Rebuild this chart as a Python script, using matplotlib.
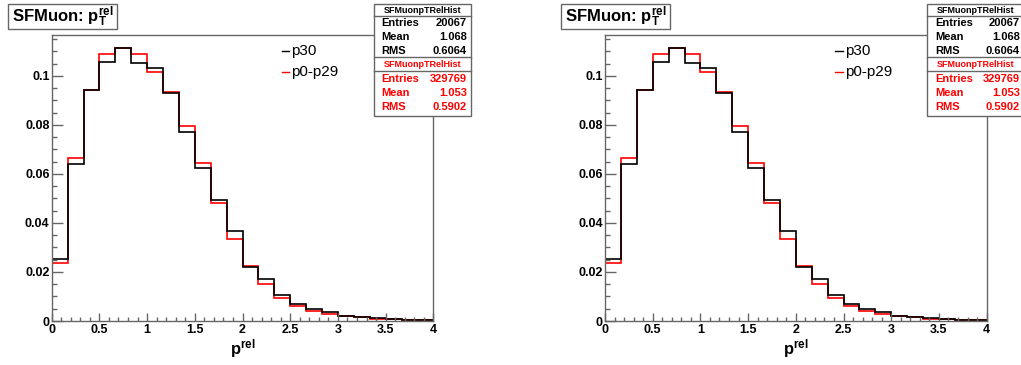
import numpy as np
import matplotlib
matplotlib.use("Agg")
import matplotlib.pyplot as plt
from matplotlib.patches import Rectangle
from matplotlib.lines import Line2D
from matplotlib.ticker import MultipleLocator, FuncFormatter

plt.rcParams['font.family'] = ['Liberation Sans', 'DejaVu Sans']
plt.rcParams['mathtext.fontset'] = 'custom'
plt.rcParams['mathtext.rm'] = 'Liberation Sans'
plt.rcParams['mathtext.bf'] = 'Liberation Sans:bold'
plt.rcParams['mathtext.it'] = 'Liberation Sans:italic'

# pT^rel histograms, 24 bins from 0 to 4, normalised to unit area
edges = np.linspace(0, 4, 25)
p30 = [0.0255, 0.0640, 0.0943, 0.1057, 0.1112, 0.1053, 0.1033, 0.0932,
       0.0772, 0.0625, 0.0493, 0.0366, 0.0219, 0.0171, 0.0106, 0.0069,
       0.0048, 0.0038, 0.0022, 0.0018, 0.0011, 0.0007, 0.0006, 0.0005]
p0_p29 = [0.0236, 0.0667, 0.0943, 0.1089, 0.1113, 0.1090, 0.1016, 0.0936,
          0.0797, 0.0644, 0.0480, 0.0335, 0.0224, 0.0149, 0.0094, 0.0063,
          0.0040, 0.0027, 0.0019, 0.0015, 0.0010, 0.0008, 0.0005, 0.0005]

legend_labels = ["p30", "p0-p29"]
hist_name = "SFMuonpTRelHist"
stat_names = ["Entries", "Mean", "RMS"]
p30_stats = ["20067", "1.068", "0.6064"]
p0_p29_stats = ["329769", "1.053", "0.5902"]

W, H = 1021, 365
fig = plt.figure(figsize=(W / 100, H / 100), dpi=100)
fig.patch.set_facecolor('white')

frame_col = '#666666'


def fx(x):
    return x / W


def fy(y):
    return 1 - y / H


def panel(off):
    ax = fig.add_axes([fx(51.7 + off), fy(321), (433.3 - 51.7) / W, (321 - 35) / H])
    ax.stairs(p0_p29, edges, color='#ff0000', lw=1.2)
    ax.stairs(p30, edges, color='black', lw=1.2)
    ax.set_xlim(0, 4)
    ax.set_ylim(0, 0.1167)
    for s in ax.spines.values():
        s.set_color(frame_col)
        s.set_linewidth(1.0)
    ax.xaxis.set_major_locator(MultipleLocator(0.5))
    ax.xaxis.set_minor_locator(MultipleLocator(0.1))
    ax.yaxis.set_major_locator(MultipleLocator(0.02))
    ax.yaxis.set_minor_locator(MultipleLocator(0.005))
    ax.xaxis.set_major_formatter(FuncFormatter(lambda v, p: '%g' % v))
    ax.yaxis.set_major_formatter(FuncFormatter(lambda v, p: '%g' % round(v, 3)))
    ax.tick_params(which='both', direction='in', top=False, right=False,
                   color=frame_col, width=1.0, labelsize=9)
    ax.tick_params(axis='y', which='major', length=8.2, pad=1.5)
    ax.tick_params(axis='y', which='minor', length=3.9)
    ax.tick_params(axis='x', which='major', length=5.5, pad=2.0)
    ax.tick_params(axis='x', which='minor', length=3.0)
    for lab in ax.get_xticklabels() + ax.get_yticklabels():
        lab.set_fontweight('bold')
    fig.text(fx(242.5 + off), fy(354), r'$\mathbf{p}^{\mathbf{rel}}$',
             ha='center', va='baseline', fontsize=12)

    # title box
    fig.add_artist(Rectangle((fx(8 + off), fy(29)), 109 / W, 25 / H,
                             transform=fig.transFigure, fc='white',
                             ec=frame_col, lw=1.0))
    fig.text(fx(62.5 + off), fy(17), r'SFMuon: $\mathbf{p}_{\mathbf{T}}^{\mathbf{rel}}$',
             ha='center', va='center', fontsize=12, fontweight='bold')

    # legend
    for i, (lab, col) in enumerate(zip(legend_labels, ['black', '#ff0000'])):
        y = 50.5 + 21.5 * i
        fig.add_artist(Line2D([fx(281.7 + off), fx(289.3 + off)], [fy(y), fy(y)],
                              transform=fig.transFigure, color=col, lw=1.0))
        fig.text(fx(291.5 + off), fy(y), lab, ha='left', va='center', fontsize=11)

    # statistics boxes
    x0, x1 = 374 + off, 471 + off
    for (top, bot, div, vals, col) in [(4, 57.5, 15.7, p30_stats, 'black'),
                                       (57.5, 116, 71.2, p0_p29_stats, '#ff0000')]:
        fig.add_artist(Rectangle((fx(x0), fy(bot)), (x1 - x0) / W, (bot - top) / H,
                                 transform=fig.transFigure, fc='white',
                                 ec=frame_col, lw=1.0))
        fig.add_artist(Line2D([fx(x0), fx(x1)], [fy(div), fy(div)],
                              transform=fig.transFigure, color=frame_col, lw=1.0))
        fig.text(fx((x0 + x1) / 2), fy((top + div) / 2 + 0.3), hist_name,
                 ha='center', va='center', fontsize=6.5, fontweight='bold', color=col)
        for j, (name, v) in enumerate(zip(stat_names, vals)):
            y = div + 7.3 + 14 * j
            fig.text(fx(x0 + 7.5), fy(y), name, ha='left', va='center',
                     fontsize=8, fontweight='bold', color=col)
            fig.text(fx(466.7 + off), fy(y), v, ha='right', va='center',
                     fontsize=8, fontweight='bold', color=col)
    return ax


for off in [0, 553.3]:
    panel(off)

fig.savefig('out.png', dpi=100)
